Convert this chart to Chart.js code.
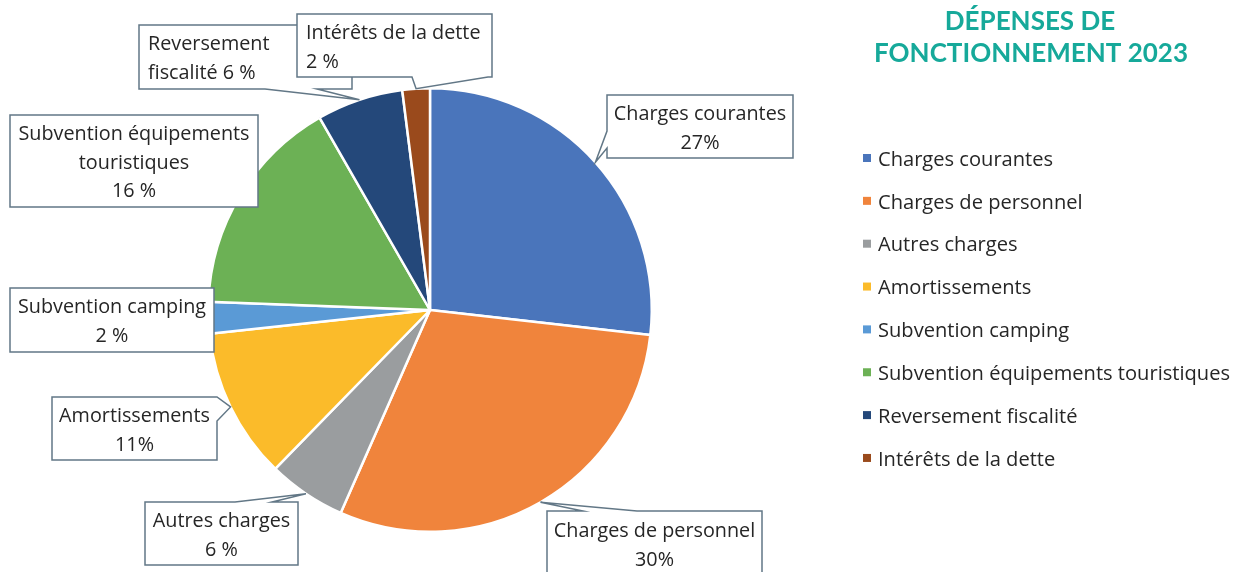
<!DOCTYPE html>
<html><head><meta charset="utf-8">
<script src="https://cdn.jsdelivr.net/npm/chart.js@4.4.1/dist/chart.umd.min.js"></script>
<style>html,body{margin:0;padding:0;background:#fff;}canvas{display:block;}</style>
</head><body>
<canvas id="c" width="1240" height="572"></canvas>
<script>
const categories = ["Charges courantes","Charges de personnel","Autres charges","Amortissements","Subvention camping","Subvention équipements touristiques","Reversement fiscalité","Intérêts de la dette"];
const values = [26.8, 29.8, 5.7, 11.0, 2.3, 16.1, 6.3, 2.0];
const colors = ["#4a75bb","#f0843c","#9a9d9f","#fbbb2a","#5a9ad6","#6cb155","#24487a","#9a4a1c"];
const labelLines = [
  ["Charges courantes","27%"],
  ["Charges de personnel","30%"],
  ["Autres charges","6 %"],
  ["Amortissements","11%"],
  ["Subvention camping","2 %"],
  ["Subvention équipements","touristiques","16 %"],
  ["Reversement","fiscalité 6 %"],
  ["Intérêts de la dette","2 %"]
];
const titleLines = ["DÉPENSES DE","FONCTIONNEMENT 2023"];

// callout box layout: [x, y, w, h, pointer side, base a, base b, text align]
const boxLayout = [
  [607, 95, 186, 63, "left", 131, 148, "center"],
  [547, 511, 215, 66, "top", 583, 637, "center"],
  [145, 502, 153, 63, "top", 235, 272, "center"],
  [52, 397, 165, 63, "right", 397, 421, "center"],
  [10, 288, 204, 64, null, 0, 0, "center"],
  [10, 115, 248, 92, null, 0, 0, "center"],
  [139, 25, 213, 64, "bottom", 265, 317, "left"],
  [297, 14, 195, 63, "bottom", 412, 488, "left"]
];
const FONT = "'Open Sans', Lato, sans-serif";
const TXT = "#262626";

function calloutPath(ctx, b, tip){
  const [x,y,w,h,side,a,bb] = b;
  ctx.beginPath();
  ctx.moveTo(x,y);
  if(side==="top"){ctx.lineTo(a,y);ctx.lineTo(tip.x,tip.y);ctx.lineTo(bb,y);}
  ctx.lineTo(x+w,y);
  if(side==="right"){ctx.lineTo(x+w,a);ctx.lineTo(tip.x,tip.y);ctx.lineTo(x+w,bb);}
  ctx.lineTo(x+w,y+h);
  if(side==="bottom"){ctx.lineTo(bb,y+h);ctx.lineTo(tip.x,tip.y);ctx.lineTo(a,y+h);}
  ctx.lineTo(x,y+h);
  if(side==="left"){ctx.lineTo(x,bb);ctx.lineTo(tip.x,tip.y);ctx.lineTo(x,a);}
  ctx.closePath();
}

const calloutPlugin = {
  id: "callouts",
  afterDatasetsDraw(chart){
    const ctx = chart.ctx;
    const meta = chart.getDatasetMeta(0);
    ctx.save();
    meta.data.forEach((arc, i) => {
      const p = arc.getProps(["x","y","startAngle","endAngle","outerRadius"], true);
      const mid = (p.startAngle + p.endAngle)/2;
      const tip = {x: p.x + p.outerRadius*Math.cos(mid), y: p.y + p.outerRadius*Math.sin(mid)};
      const b = boxLayout[i];
      calloutPath(ctx, b, tip);
      ctx.fillStyle = "#fff";
      ctx.fill();
      ctx.strokeStyle = "#627786";
      ctx.lineWidth = 1.5;
      ctx.stroke();
      const lines = labelLines[i];
      const lh = 28.8;
      ctx.font = "19.8px " + FONT;
      ctx.fillStyle = TXT;
      ctx.textBaseline = "middle";
      const cy = b[1] + b[3]/2;
      const y0 = cy - (lines.length-1)*lh/2;
      lines.forEach((t, k) => {
        if(b[7]==="left"){ctx.textAlign="left"; ctx.fillText(t, b[0]+9, y0+k*lh+2);}
        else {ctx.textAlign="center"; ctx.fillText(t, b[0]+b[2]/2, y0+k*lh+2);}
      });
    });
    ctx.restore();
  },
  afterDraw(chart){
    const ctx = chart.ctx;
    ctx.save();
    // title
    ctx.fillStyle = "#16a99a";
    ctx.font = "bold 26px Lato, sans-serif";
    ctx.textAlign = "center";
    ctx.textBaseline = "middle";
    ctx.fillText(titleLines[0], 1030, 22);
    ctx.fillText(titleLines[1], 1031, 54);
    // legend
    ctx.font = "20.1px " + FONT;
    ctx.textAlign = "left";
    const ds = chart.data.datasets[0];
    chart.data.labels.forEach((lab, i) => {
      const y = 158 + i*42.85;
      ctx.fillStyle = ds.backgroundColor[i];
      ctx.fillRect(863, y-4, 8, 8);
      ctx.fillStyle = TXT;
      ctx.fillText(lab, 878, y+2);
    });
    ctx.restore();
  }
};

new Chart(document.getElementById("c"), {
  type: "pie",
  data: {
    labels: categories,
    datasets: [{
      data: values,
      backgroundColor: colors,
      borderColor: "#ffffff",
      borderWidth: 2.5
    }]
  },
  options: {
    responsive: false,
    devicePixelRatio: 1,
    animation: false,
    layout: {padding: {left: 207, right: 587, top: 87, bottom: 39}},
    plugins: {legend: {display: false}, tooltip: {enabled: false}, title: {display: false}}
  },
  plugins: [calloutPlugin]
});
</script>
</body></html>
